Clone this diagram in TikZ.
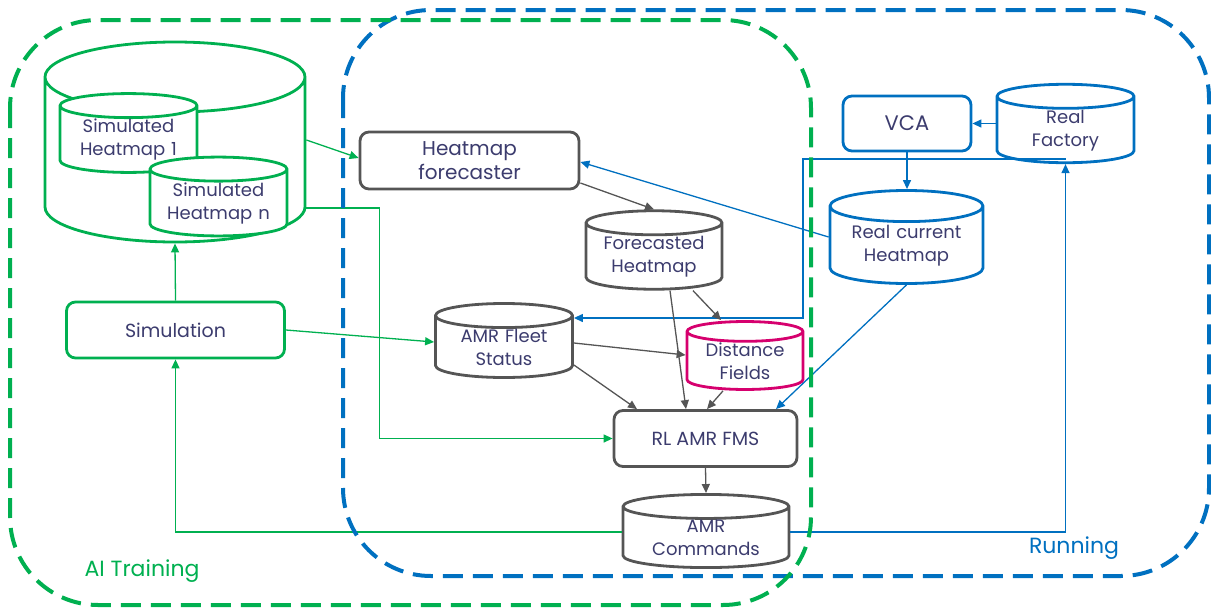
\documentclass[tikz,border=0pt]{standalone}
\usepackage{fontspec}
\setmainfont{Poppins}
\usetikzlibrary{shapes.geometric,arrows.meta}
\definecolor{hgreen}{RGB}{0,176,80}
\definecolor{hblue}{RGB}{0,112,192}
\definecolor{hgray}{RGB}{85,85,85}
\definecolor{hpink}{RGB}{214,0,110}
\definecolor{txt}{RGB}{60,60,110}
\tikzset{
  box/.style={draw, rounded corners=9pt, line width=2.8pt, fill=white, text=txt, align=center, font=\fontsize{19}{24}\selectfont},
  db/.style={cylinder, shape border rotate=90, aspect=0.185, text width=130pt, anchor=shape center, draw, line width=2.8pt, fill=white, text=txt, align=center, inner sep=0pt, font=\fontsize{18}{23}\selectfont},
  link/.style={line width=1.3pt, -{Triangle[length=9pt,width=8pt]}},
  zone/.style={line width=4pt, dash pattern=on 20pt off 10pt, rounded corners=88pt},
}
\begin{document}
\begin{tikzpicture}[x=1pt,y=-1pt]
\useasboundingbox (0,0) rectangle (1211,608);
% training side
\node[db, draw=hgreen, aspect=0.28, text width=250pt, minimum width=260pt, minimum height=200pt] (simdb) at (175,142) {};
\node[db, draw=hgreen, minimum width=137pt, minimum height=72pt] (sim1) at (128.5,133) {Simulated\\Heatmap 1};
\node[db, draw=hgreen, minimum width=137pt, minimum height=73pt] (simn) at (218.5,196.5) {Simulated\\Heatmap n};
\node[box, draw=hgreen, minimum width=218pt, minimum height=56pt] (sim) at (175.5,330) {Simulation};
% fleet manager
\node[box, draw=hgray, minimum width=219pt, minimum height=57pt, font=\fontsize{20}{24}\selectfont] (fc) at (469.5,160.5) {Heatmap\\forecaster};
\node[db, draw=hgray, minimum width=136pt, minimum height=74pt] (fhm) at (654,250) {Forecasted\\Heatmap};
\node[db, draw=hgray, minimum width=137pt, minimum height=74pt] (fleet) at (504,340.5) {AMR Fleet\\Status};
\node[db, draw=hpink, aspect=0.18, text width=110pt, minimum width=116pt, minimum height=66pt] (dist) at (745,355.5) {Distance\\Fields};
\node[box, draw=hgray, minimum width=183pt, minimum height=56pt] (rl) at (705.5,438.5) {RL AMR FMS};
\node[db, draw=hgray, aspect=0.152, text width=158pt, minimum width=166pt, minimum height=72pt] (cmd) at (706,531) {AMR\\Commands};
% running side
\node[box, draw=hblue, minimum width=128pt, minimum height=55pt, font=\fontsize{21}{24}\selectfont] (vca) at (907,123.5) {VCA};
\node[db, draw=hblue, minimum width=137pt, minimum height=73pt] (factory) at (1065.5,123.5) {Real\\Factory};
\node[db, draw=hblue, aspect=0.213, text width=146pt, minimum width=153pt, minimum height=93pt] (real) at (906.5,237) {Real current\\Heatmap};
% green links
\draw[link, hgreen] (simdb.east |- 0,140) -- (fc.west |- 0,158);
\draw[link, hgreen] (simdb.east |- 0,208) -- ++(73,0) |- (rl.west);
\draw[link, hgreen] (sim.north) -- (simdb.south);
\draw[link, hgreen] (sim.east) -- (fleet.west |- 0,342);
\draw[link, hgreen] (cmd.west |- 0,532) -| (sim.south);
% blue links
\draw[link, hblue] (factory.west |- vca.east) -- (vca.east);
\draw[link, hblue] (vca.south) -- (vca.south |- real.north);
\draw[link, hblue] (real.west |- 0,237) -- (fc.east |- 0,162);
\draw[link, hblue] (factory.south |- 0,159) -- (803,159) |- (fleet.east |- 0,318);
\draw[link, hblue] (real.south) -- (rl.north -| 776,0);
\draw[link, hblue] (cmd.east |- 0,532) -| (factory.south);
% gray links
\draw[link, hgray] (fc.east |- 0,183) -- (fhm.north);
\draw[link, hgray] (fhm.south -| 670,0) -- (rl.north -| 686,0);
\draw[link, hgray] (fhm.south -| 693,0) -- (dist.north -| 721,0);
\draw[link, hgray] (fleet.east |- 0,343) -- (dist.west |- 0,355);
\draw[link, hgray] (fleet.east |- 0,365) -- (rl.north -| 637,0);
\draw[link, hgray] (dist.south -| 723,0) -- (rl.north -| 707,0);
\draw[link, hgray] (rl.south) -- (cmd.north);
% zones
\draw[zone, hblue] (343,10) rectangle (1209,576);
\draw[zone, hgreen] (10,20) rectangle (811,605);
\node[text=hgreen, font=\fontsize{22}{26}\selectfont] (train) at (142,571) {AI Training};
\node[text=hblue, font=\fontsize{22}{26}\selectfont] (run) at (1074,548) {Running};
\end{tikzpicture}
\end{document}
